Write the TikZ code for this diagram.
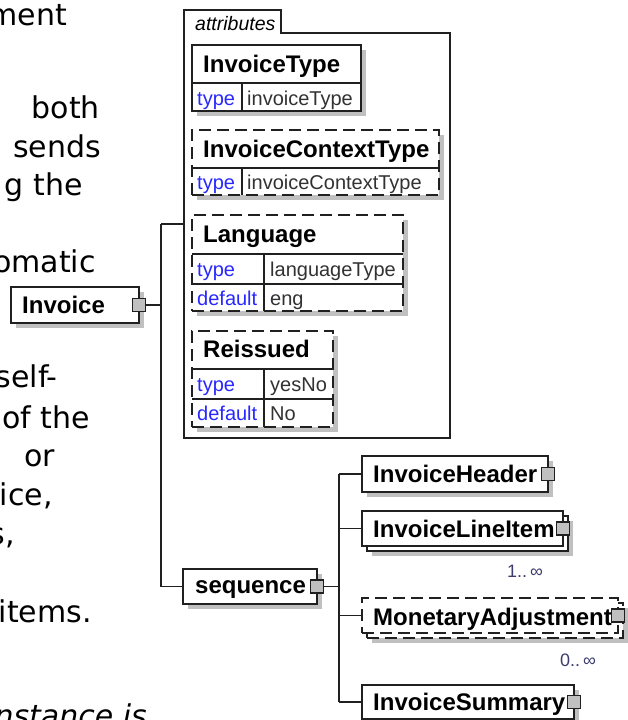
\documentclass[tikz,border=0pt]{standalone}
\usepackage{fontspec}
\setmainfont{Liberation Sans}
\newfontfamily\pagefont{DejaVu Sans}
\usetikzlibrary{shadows}
\definecolor{lc}{RGB}{32,32,32}
\definecolor{shd}{RGB}{192,192,192}
\definecolor{sqf}{RGB}{192,192,192}
\definecolor{attblue}{RGB}{40,40,255}
\definecolor{valc}{RGB}{50,50,50}
\definecolor{occ}{RGB}{60,60,110}
\begin{document}
\begin{tikzpicture}[x=1pt,y=-1pt,
  plainbox/.style={draw=lc, line width=1.4pt, fill=white, inner sep=0pt, outer sep=0pt, anchor=north west},
  box/.style={plainbox, general shadow={fill=shd, shadow xshift=5pt, shadow yshift=-5pt}},
  dashpat/.style={dash pattern=on 12pt off 6pt},
  sq/.style={draw=lc, line width=1.2pt, fill=sqf, minimum size=13pt, inner sep=0pt, outer sep=0pt},
  hdr/.style={font=\fontsize{24}{28}\selectfont\bfseries, anchor=base west, inner sep=0pt},
  key/.style={font=\fontsize{20}{23}\selectfont, text=attblue, anchor=base west, inner sep=0pt},
  val/.style={font=\fontsize{20}{23}\selectfont, text=valc, anchor=base west, inner sep=0pt},
  occl/.style={font=\fontsize{18}{20}\selectfont, text=occ, anchor=base west, inner sep=0pt},
  body/.style={font=\pagefont\fontsize{30}{36}\selectfont, anchor=base east, inner sep=0pt},
  conn/.style={draw=lc, line width=1.4pt},
  div/.style={draw=lc, line width=1.4pt},
]
\useasboundingbox (0,0) rectangle (628,720);
\clip (0,0) rectangle (628,720);
\fill[white] (0,0) rectangle (628,720);

% page text (cut off at the left)
\node[body] (t1) at (67,25) {ment};
\node[body] (t2) at (100,118) {both};
\node[body] (t3) at (101,157) {sends};
\node[body] (t4) at (83,195) {g the};
\node[body] (t5) at (96,272) {omatic};
\node[body] (t6) at (58,387) {self-};
\node[body] (t7) at (90,428) {of the};
\node[body] (t8) at (55,466) {or};
\node[body] (t9) at (53,505) {ice,};
\node[body] (t10) at (15,544) {s,};
\node[body] (t11) at (92,622) {items.};
\node[body, font=\pagefont\itshape\fontsize{30}{36}\selectfont] (t12) at (147,726) {nstance is};

% attributes group
\node[inner sep=0pt, outer sep=0pt, anchor=north west, minimum width=266pt, minimum height=428pt] (attr) at (184,10) {};
\draw[div] (184,10) -- (281,10) -- (281,33) -- (450,33) -- (450,438) -- (184,438) -- cycle;
\node[inner sep=0pt, anchor=base west, font=\fontsize{19.5}{22}\selectfont\itshape] (attrlbl) at (195,30) {attributes};

% InvoiceType
\node[box, minimum width=169pt, minimum height=66pt] (atype) at (192,45) {};
\draw[div] (192,83) -- (361,83);
\draw[div] (242,83) -- (242,111);
\node[hdr] (atypeh) at (203,72) {InvoiceType};
\node[key] (atypek) at (197,105) {type};
\node[val] (atypev) at (247,105) {invoiceType};

% InvoiceContextType
\node[box, dashpat, minimum width=247pt, minimum height=65pt] (actx) at (192,130) {};
\draw[div] (192,168) -- (439,168);
\draw[div] (242,168) -- (242,195);
\node[hdr] (actxh) at (203,157) {InvoiceContextType};
\node[key] (actxk) at (197,189) {type};
\node[val] (actxv) at (247,189) {invoiceContextType};

% Language
\node[box, dashpat, minimum width=211pt, minimum height=96pt] (alang) at (192,215) {};
\draw[div] (192,254) -- (403,254);
\draw[div] (192,284) -- (403,284);
\draw[div] (264,254) -- (264,311);
\node[hdr] (alangh) at (203,242) {Language};
\node[key] (alangk1) at (197,276) {type};
\node[val] (alangv1) at (270,276) {languageType};
\node[key] (alangk2) at (197,305) {default};
\node[val] (alangv2) at (270,305) {eng};

% Reissued
\node[box, dashpat, minimum width=141pt, minimum height=96pt] (areis) at (192,331) {};
\draw[div] (192,369) -- (333,369);
\draw[div] (192,399) -- (333,399);
\draw[div] (264,369) -- (264,427);
\node[hdr] (areish) at (203,357) {Reissued};
\node[key] (areisk1) at (197,391) {type};
\node[val] (areisv1) at (270,391) {yesNo};
\node[key] (areisk2) at (197,420) {default};
\node[val] (areisv2) at (270,420) {No};

% Invoice
\node[box, minimum width=128pt, minimum height=36pt] (invoice) at (11,287) {};
\node[hdr] (invoicel) at (22,313) {Invoice};
\node[sq] (invsq) at (invoice.east) {};

% sequence
\node[box, minimum width=134pt, minimum height=35pt] (seq) at (183,569) {};
\node[hdr] (seql) at (195,593) {sequence};
\node[sq] (seqsq) at (seq.east) {};

% InvoiceHeader
\node[box, minimum width=186pt, minimum height=36pt] (hdrbox) at (362,456) {};
\node[hdr] (hdrl) at (373,482) {InvoiceHeader};
\node[sq] (hdrsq) at (hdrbox.east) {};

% InvoiceLineItem (multiple)
\node[box, minimum width=201pt, minimum height=35pt] (lineback) at (367,516) {};
\node[plainbox, minimum width=201pt, minimum height=35pt] (linebox) at (362,511) {};
\node[hdr] (linel) at (373,537) {InvoiceLineItem};
\node[sq] (linesq) at (linebox.east) {};
\node[occl] (lineocc) at (507,577) {1..\,∞};

% MonetaryAdjustment (optional, multiple)
\node[box, dashpat, minimum width=256pt, minimum height=35pt] (monback) at (367,603) {};
\node[plainbox, dashpat, minimum width=256pt, minimum height=35pt] (monbox) at (362,598) {};
\node[hdr] (monl) at (373,625) {MonetaryAdjustment};
\node[sq] (monsq) at (monbox.east) {};
\node[occl] (monocc) at (560,666) {0..\,∞};

% InvoiceSummary
\node[box, minimum width=212pt, minimum height=34pt] (sumbox) at (362,685) {};
\node[hdr] (suml) at (373,710) {InvoiceSummary};
\node[sq] (sumsq) at (sumbox.east) {};

% connectors
\coordinate (vtop) at (161,224);
\coordinate (vbot) at (seq.west -| vtop);
\draw[conn] (vtop) -- (vbot);
\draw[conn] (invsq.east) -- (invsq.east -| vtop);
\draw[conn] (vtop) -- (vtop -| attr.west);
\draw[conn] (vbot) -- (seq.west);

\coordinate (ctop) at ([xshift=-23pt]hdrbox.west);
\coordinate (cbot) at ([xshift=-23pt]sumbox.west);
\draw[conn] (ctop) -- (cbot);
\draw[conn] (seqsq.east) -- (seqsq.east -| ctop);
\draw[conn] (ctop) -- (hdrbox.west);
\draw[conn] (linebox.west -| ctop) -- (linebox.west);
\draw[conn] (monbox.west -| ctop) -- (monbox.west);
\draw[conn] (cbot) -- (sumbox.west);
\end{tikzpicture}
\end{document}
